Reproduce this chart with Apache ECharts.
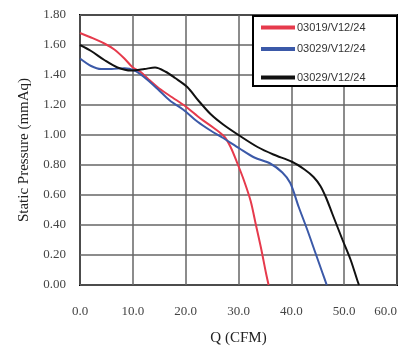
<!DOCTYPE html>
<html><head><meta charset="utf-8">
<script src="https://cdn.jsdelivr.net/npm/echarts@6/dist/echarts.min.js"></script>
<style>html,body{margin:0;padding:0;background:#fff}#c{width:406px;height:347px}</style>
</head><body><div id="c"></div>
<script>
const seriesNames = ['03019/V12/24', '03029/V12/24', '03029/V12/24 '];
const xTicks = [0, 10, 20, 30, 40, 50, 60];
const yTicks = [0, 0.2, 0.4, 0.6, 0.8, 1.0, 1.2, 1.4, 1.6, 1.8];
const redQ = [0, 2.1, 4.6, 6.5, 8.4, 10, 11.5, 13, 15, 17.5, 20, 22.8, 25.2, 27.3, 28.5, 29.8, 31, 32.3, 33.3, 34.3, 35.2, 35.7];
const redP = [1.68, 1.65, 1.61, 1.57, 1.51, 1.45, 1.42, 1.37, 1.31, 1.25, 1.19, 1.11, 1.05, 0.99, 0.92, 0.81, 0.70, 0.56, 0.40, 0.24, 0.08, 0];
const blueQ = [0, 2.1, 4, 6, 8.4, 10.3, 12, 14.6, 17, 19.5, 22.2, 24.7, 27.1, 30.2, 33, 36, 38.3, 39.8, 41.4, 43, 44.6, 45.9, 46.7];
const blueP = [1.51, 1.46, 1.44, 1.44, 1.445, 1.43, 1.39, 1.31, 1.23, 1.17, 1.09, 1.03, 0.98, 0.91, 0.85, 0.81, 0.75, 0.68, 0.52, 0.37, 0.21, 0.08, 0];
const blackQ = [0, 2.1, 4.6, 7.1, 9.7, 12.2, 14.2, 16.3, 18, 20.3, 22.4, 24.7, 27.1, 30, 33.6, 36.6, 40.2, 42.5, 44.2, 45.5, 46.6, 47.7, 49.7, 51.2, 52.5, 52.8];
const blackP = [1.60, 1.56, 1.50, 1.45, 1.43, 1.44, 1.45, 1.42, 1.38, 1.32, 1.23, 1.14, 1.07, 1.00, 0.92, 0.87, 0.82, 0.77, 0.72, 0.66, 0.58, 0.48, 0.30, 0.17, 0.03, 0];
const colors = ['#e63a4c', '#3b59a8', '#111111'];

const pair = (xs, ys) => xs.map((x, i) => [x, ys[i]]);
const serif = '"Liberation Serif", "Times New Roman", serif';

const chart = echarts.init(document.getElementById('c'), null, {renderer: 'canvas'});
chart.setOption({
  animation: false,
  grid: {left: 80, top: 15, right: 9, bottom: 62, outerBoundsMode: 'none', containLabel: false,
    show: true, borderColor: '#000', borderWidth: 2, backgroundColor: 'transparent'},
  xAxis: {
    type: 'value', min: xTicks[0], max: xTicks[xTicks.length - 1], interval: 10,
    name: 'Q (CFM)', nameLocation: 'middle', nameGap: 46,
    nameTextStyle: {fontFamily: serif, fontSize: 15, color: '#222'},
    axisLine: {show: false}, axisTick: {show: false},
    axisLabel: {fontFamily: serif, fontSize: 13, color: '#444', margin: 20, alignMaxLabel: 'right', formatter: v => v.toFixed(1)},
    splitLine: {show: true, lineStyle: {color: '#666', width: 1.5}}
  },
  yAxis: {
    type: 'value', min: yTicks[0], max: yTicks[yTicks.length - 1], interval: 0.2,
    name: 'Static Pressure (mmAq)', nameLocation: 'middle', nameGap: 48,
    nameTextStyle: {fontFamily: serif, fontSize: 15, color: '#222'},
    axisLine: {show: false}, axisTick: {show: false},
    axisLabel: {fontFamily: serif, fontSize: 13, color: '#444', margin: 14, formatter: v => v.toFixed(2)},
    splitLine: {show: true, lineStyle: {color: '#666', width: 1.5}}
  },
  legend: {
    orient: 'vertical', left: 259, top: 22, itemWidth: 34, itemHeight: 12, itemGap: 10.5,
    padding: 0,
    lineStyle: {width: 4},
    itemStyle: {opacity: 0},
    textStyle: {fontFamily: '"Liberation Sans", Arial, sans-serif', fontSize: 11, color: '#333', padding: [0, 0, 0, -3]},
    data: seriesNames.map((n, i) => (i === 2
      ? {name: n, textStyle: {padding: [12, 0, 0, -3], lineHeight: 13}}
      : {name: n}))
  },
  graphic: [{
    type: 'rect', z: 3, shape: {x: 253, y: 16, width: 144, height: 70},
    style: {fill: '#fff', stroke: '#000', lineWidth: 2}
  }],
  series: [
    {name: seriesNames[0], type: 'line', data: pair(redQ, redP), smooth: 0.3, symbol: 'none', lineStyle: {color: colors[0], width: 2}, itemStyle: {color: colors[0]}},
    {name: seriesNames[1], type: 'line', data: pair(blueQ, blueP), smooth: 0.3, symbol: 'none', lineStyle: {color: colors[1], width: 2}, itemStyle: {color: colors[1]}},
    {name: seriesNames[2], type: 'line', data: pair(blackQ, blackP), smooth: 0.3, symbol: 'none', lineStyle: {color: colors[2], width: 2}, itemStyle: {color: colors[2]}}
  ]
});
</script></body></html>
